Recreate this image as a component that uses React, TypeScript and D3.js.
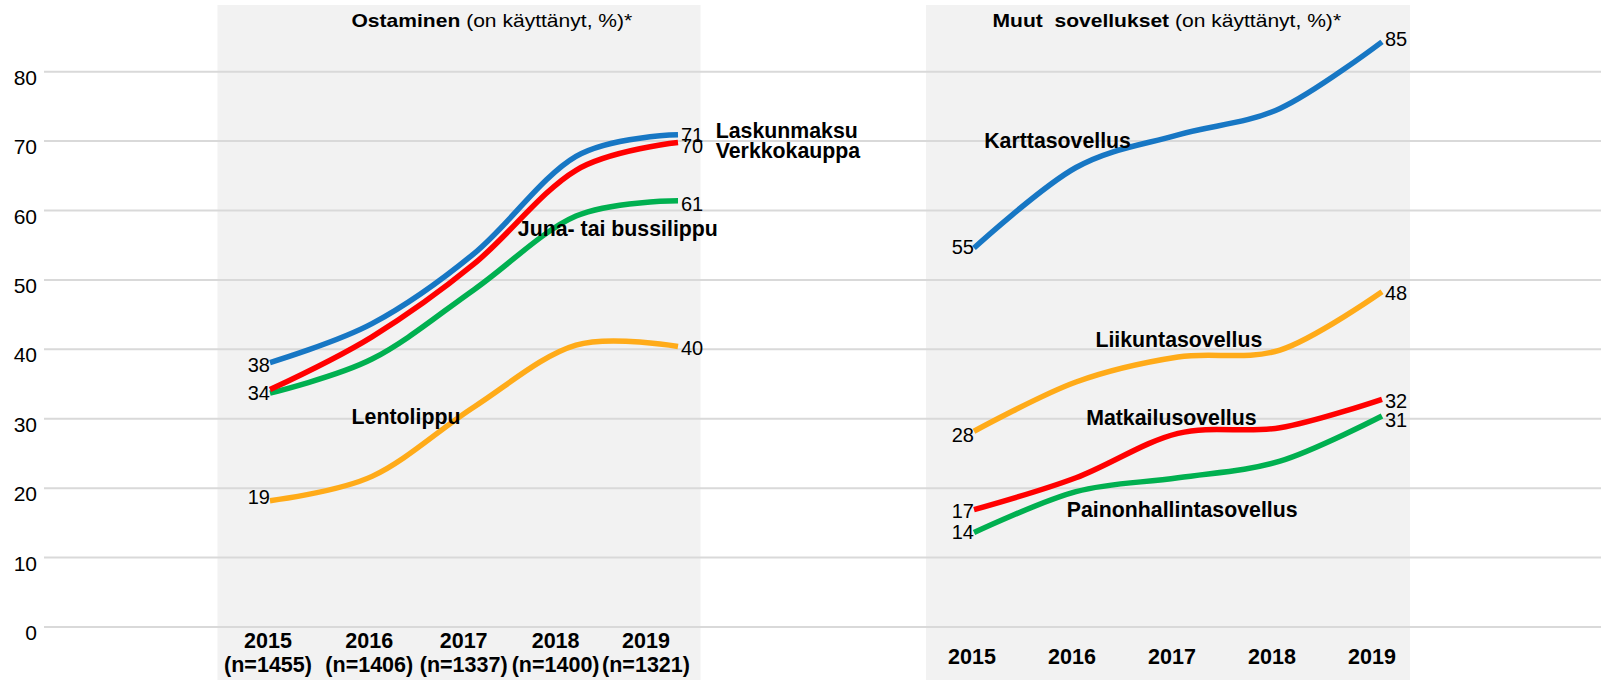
import React from 'react';
import * as d3 from 'd3';

// ---------- data ----------
const years = ['2015', '2016', '2017', '2018', '2019'];
const sampleSizes = ['(n=1455)', '(n=1406)', '(n=1337)', '(n=1400)', '(n=1321)'];
const yTicks = [0, 10, 20, 30, 40, 50, 60, 70, 80];

// Ostaminen (purchasing)
const laskunmaksu = [38.1, 43.7, 53.8, 67.8, 70.9];
const verkkokauppa = [34.2, 41.8, 52.3, 65.8, 69.8];
const junaTaiBussilippu = [33.7, 38.6, 48.6, 59.2, 61.4];
const lentolippu = [18.2, 21.7, 31.7, 40.6, 40.4];

// Muut sovellukset (other apps)
const karttasovellus = [54.6, 66.2, 70.9, 74.7, 84.3];
const liikuntasovellus = [28.2, 35.3, 38.9, 39.9, 48.3];
const matkailusovellus = [16.9, 21.5, 27.9, 28.7, 32.8];
const painonhallintasovellus = [13.6, 19.5, 21.5, 23.9, 30.4];

// value labels shown at the ends of the lines
const ostStartLabels = [38, 34, null, 19];
const ostEndLabels = [71, 70, 61, 40];
const muutStartLabels = [55, 28, 17, 14];
const muutEndLabels = [85, 48, 32, 31];

const ostNames = ['Laskunmaksu', 'Verkkokauppa', 'Juna- tai bussilippu', 'Lentolippu'];
const muutNames = ['Karttasovellus', 'Liikuntasovellus', 'Matkailusovellus', 'Painonhallintasovellus'];

// ---------- styling / layout ----------
const BLUE = '#1777c4';
const RED = '#ff0000';
const GREEN = '#00b050';
const ORANGE = '#ffab19';
const FONT = 'Liberation Sans, Arial, Helvetica, sans-serif';

const W = 1601;
const H = 680;

const yScale = d3.scaleLinear().domain([0, 80]).range([627, 71.7]);

type Panel = {
  title: string;
  subtitle: string;
  rect: [number, number];
  lineRange: [number, number];
  labelRange: [number, number];
  labelExp: number;
  titleX: number;
  series: { name: string; values: number[]; color: string; start: number | null; end: number; endDy: number; nameAt: [number, number] }[];
  showN: boolean;
  yearBaseline: number;
};

const panels: Panel[] = [
  {
    title: 'Ostaminen',
    subtitle: ' (on käyttänyt, %)*',
    rect: [217.5, 700.5],
    lineRange: [270, 678],
    labelRange: [268, 646],
    labelExp: 0.95,
    titleX: 351.5,
    showN: true,
    yearBaseline: 648,
    series: [
      { name: ostNames[2], values: junaTaiBussilippu, color: GREEN, start: ostStartLabels[2], end: ostEndLabels[2], endDy: 0, nameAt: [2.43, 56.3] },
      { name: ostNames[1], values: verkkokauppa, color: RED, start: ostStartLabels[1], end: ostEndLabels[1], endDy: 5, nameAt: [4.37, 67.6] },
      { name: ostNames[0], values: laskunmaksu, color: BLUE, start: ostStartLabels[0], end: ostEndLabels[0], endDy: 1, nameAt: [4.37, 70.4] },
      { name: ostNames[3], values: lentolippu, color: ORANGE, start: ostStartLabels[3], end: ostEndLabels[3], endDy: -1, nameAt: [0.8, 29.2] },
    ],
  },
  {
    title: 'Muut  sovellukset',
    subtitle: ' (on käyttänyt, %)*',
    rect: [926, 1410],
    lineRange: [974, 1382],
    labelRange: [972, 1372],
    labelExp: 1,
    titleX: 992.5,
    showN: false,
    yearBaseline: 664,
    series: [
      { name: muutNames[0], values: karttasovellus, color: BLUE, start: muutStartLabels[0], end: muutEndLabels[0], endDy: 2, nameAt: [0.1, 69.0] },
      { name: muutNames[1], values: liikuntasovellus, color: ORANGE, start: muutStartLabels[1], end: muutEndLabels[1], endDy: -1, nameAt: [1.19, 40.4] },
      { name: muutNames[2], values: matkailusovellus, color: RED, start: muutStartLabels[2], end: muutEndLabels[2], endDy: -4, nameAt: [1.1, 29.1] },
      { name: muutNames[3], values: painonhallintasovellus, color: GREEN, start: muutStartLabels[3], end: muutEndLabels[3], endDy: 8, nameAt: [0.91, 15.8] },
    ],
  },
];

function PanelView({ p }: { p: Panel }) {
  const x = d3.scalePoint<string>().domain(years).range(p.lineRange);
  const xi = d3.scaleLinear().domain([0, years.length - 1]).range(p.lineRange);
  const xl = d3.scalePow().exponent(p.labelExp).domain([0, years.length - 1]).range(p.labelRange);
  const line = d3
    .line<number>()
    .x((_, i) => x(years[i]) as number)
    .y((d) => yScale(d))
    .curve(d3.curveCardinal.tension(0));
  const x0 = x(years[0]) as number;
  const xN = x(years[years.length - 1]) as number;

  return (
    <g>
      {p.series.map((s) => (
        <path key={s.name} d={line(s.values) || ''} fill="none" stroke={s.color} strokeWidth={5.5} />
      ))}
      {p.series.map((s) => (
        <g key={s.name + '-lbl'} fontFamily={FONT} fill="#000">
          {s.start !== null && (
            <text x={x0} y={yScale(s.start) + 2} dy="0.35em" textAnchor="end" fontSize={20}>
              {s.start}
            </text>
          )}
          <text x={xN + 3} y={yScale(s.end) + s.endDy} dy="0.35em" textAnchor="start" fontSize={20}>
            {s.end}
          </text>
          <text x={xi(s.nameAt[0])} y={yScale(s.nameAt[1])} fontSize={21.3} fontWeight="bold">
            {s.name}
          </text>
        </g>
      ))}
      {years.map((yr, i) => (
        <g key={yr} fontFamily={FONT} fontWeight="bold" fontSize={21.5} textAnchor="middle">
          <text x={xl(i)} y={p.yearBaseline}>{yr}</text>
          {p.showN && (
            <text x={xl(i)} y={p.yearBaseline + 24}>{sampleSizes[i]}</text>
          )}
        </g>
      ))}
      <g transform={`translate(${p.titleX},27) scale(1.17,1)`}>
        <text x={0} y={0} fontFamily={FONT} fontSize={18} style={{ whiteSpace: 'pre' }}>
          <tspan fontWeight="bold">{p.title}</tspan>
          <tspan>{p.subtitle}</tspan>
        </text>
      </g>
    </g>
  );
}

export default function App() {
  return (
    <svg
      width={W}
      height={H}
      viewBox={`0 0 ${W} ${H}`}
      style={{ position: 'absolute', left: 0, top: 0, background: '#fff' }}
    >
      <rect x={0} y={0} width={W} height={H} fill="#fff" />
      {panels.map((p) => (
        <rect key={p.title + 'bg'} x={p.rect[0]} y={5} width={p.rect[1] - p.rect[0]} height={H - 5} fill="#f2f2f2" />
      ))}
      {yTicks.map((t) => (
        <g key={t}>
          <line x1={44} x2={W} y1={yScale(t)} y2={yScale(t)} stroke="#d9d9d9" strokeWidth={2} />
          <text x={37} y={yScale(t) + 13} textAnchor="end" fontFamily={FONT} fontSize={21} fill="#000">
            {t}
          </text>
        </g>
      ))}
      {panels.map((p) => (
        <PanelView key={p.title} p={p} />
      ))}
    </svg>
  );
}
